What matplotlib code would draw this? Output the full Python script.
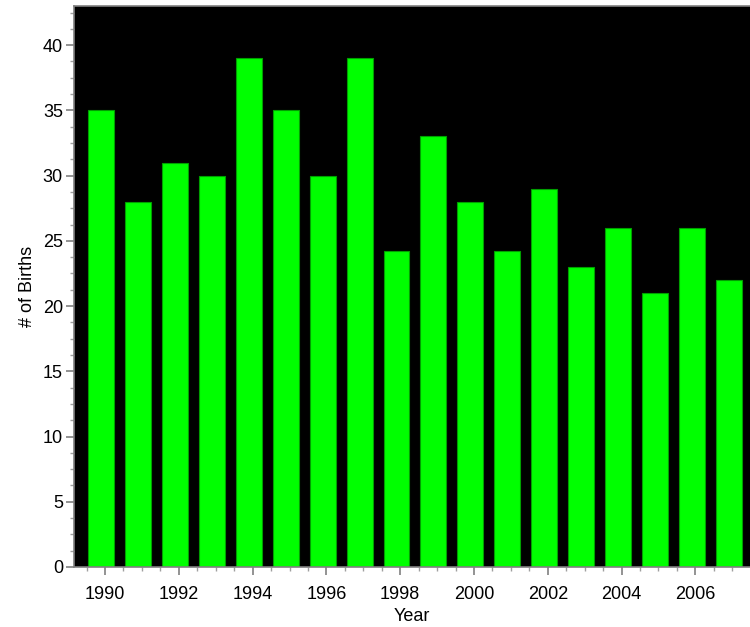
import matplotlib
matplotlib.use('Agg')
import matplotlib.pyplot as plt
from matplotlib.ticker import MultipleLocator
import numpy as np

# births per year
years = np.arange(1990, 2008)
births = [35, 28, 31, 30, 39, 35, 30, 39, 24.2, 33, 28, 24.2, 29, 23, 26, 21, 26, 22]

plt.rcParams['font.family'] = ['Liberation Sans', 'DejaVu Sans']

fig = plt.figure(figsize=(7.5, 6.27), dpi=100)
ax = fig.add_axes([0.0987, 0.0957, 0.9013, 0.8947])
ax.set_facecolor('black')

ax.bar(years - 0.1, births, width=0.7, color='#00ff00', edgecolor='#00a000', linewidth=0.8)

ax.set_xlim(1989.16, 2007.48)
ax.set_ylim(0, 43)
ax.xaxis.set_major_locator(MultipleLocator(2))
ax.xaxis.set_minor_locator(MultipleLocator(0.5))
ax.yaxis.set_major_locator(MultipleLocator(5))
ax.yaxis.set_minor_locator(MultipleLocator(1.25))

for s in ['left', 'bottom', 'top']:
    ax.spines[s].set_color('#808080')
    ax.spines[s].set_linewidth(1.2)
ax.spines['right'].set_visible(False)

ax.tick_params(which='major', length=6, width=1.2, color='#808080', labelsize=13)
ax.tick_params(axis='x', which='major', pad=8)
ax.tick_params(axis='y', which='major', pad=2)
ax.tick_params(which='minor', length=3, width=1, color='#a0a0a0')

ax.set_xlabel('Year', fontsize=13, labelpad=3)
ax.set_ylabel('# of Births', fontsize=13, labelpad=5)

plt.savefig('out.png', dpi=100)
